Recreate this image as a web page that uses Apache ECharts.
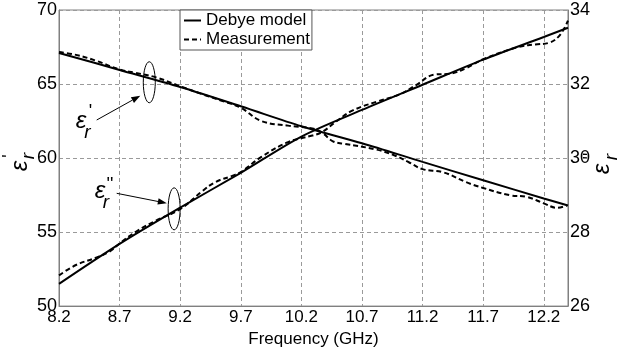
<!DOCTYPE html>
<html>
<head>
<meta charset="utf-8">
<script src="https://cdn.jsdelivr.net/npm/echarts@6/dist/echarts.min.js"></script>
<style>html,body{margin:0;padding:0;background:#fff}#c{width:619px;height:353px}</style>
</head>
<body>
<div id="c"></div>
<script>
// ---------- data ----------
const X0 = 8.2;                      // first frequency tick (GHz)
const xTickStep = 0.5;
const freqDebye = [8.2, 8.7, 9.2, 9.7, 10.2, 10.7, 11.2, 11.7, 12.2, 12.4];
const epsRealDebye = [67.1, 65.95, 64.8, 63.5, 62.15, 61.0, 59.74, 58.5, 57.27, 56.8];
const epsImagDebye = [26.6, 27.68, 28.66, 29.6, 30.58, 31.3, 31.98, 32.66, 33.27, 33.52];

const freqMeasReal = [8.2, 8.34, 8.5, 8.7, 8.83, 9.0, 9.2, 9.38, 9.55, 9.7, 9.87, 10.09, 10.29, 10.37, 10.46, 10.55, 10.82, 10.98, 11.09, 11.2, 11.37, 11.56, 11.7, 11.92, 12.06, 12.2, 12.31, 12.39];
const epsRealMeas = [67.16, 66.97, 66.59, 65.98, 65.76, 65.45, 64.85, 64.32, 63.85, 63.4, 62.5, 62.19, 62.0, 61.72, 61.13, 60.97, 60.57, 60.14, 59.7, 59.25, 59.04, 58.37, 57.98, 57.49, 57.38, 56.94, 56.64, 56.79];

const freqMeasImag = [8.2, 8.34, 8.5, 8.61, 8.7, 8.83, 9.0, 9.2, 9.38, 9.49, 9.63, 9.7, 9.87, 10.09, 10.29, 10.37, 10.48, 10.62, 10.82, 11.01, 11.15, 11.29, 11.43, 11.56, 11.7, 11.99, 12.13, 12.24, 12.33, 12.4];
const epsImagMeas = [26.83, 27.11, 27.3, 27.46, 27.69, 28.0, 28.31, 28.62, 29.1, 29.35, 29.52, 29.62, 30.03, 30.43, 30.61, 30.7, 30.97, 31.28, 31.52, 31.72, 31.98, 32.25, 32.28, 32.43, 32.67, 33.0, 33.07, 33.11, 33.31, 33.71];

const leftTicks = {min: 50, max: 70, step: 5};
const rightTicks = {min: 26, max: 34, step: 2};
const xRange = {min: 8.2, max: 12.4};
const seriesNames = ['Debye model', 'Measurement'];

// ---------- chart ----------
const FONT = '"Liberation Sans", Arial, sans-serif';
const toXY = (fs, vs) => fs.map((f, i) => [f - X0, vs[i]]);
const chart = echarts.init(document.getElementById('c'), null, {renderer: 'canvas'});

const gridLine = {show: true, lineStyle: {color: '#9a9a9a', type: [4, 3], width: 1}};
const axisLineS = {show: true, lineStyle: {color: '#808080', width: 1}};

chart.setOption({
  animation: false,
  backgroundColor: '#fff',
  grid: {left: 59, right: 51, top: 10, bottom: 41, show: true, borderColor: '#808080', borderWidth: 1},
  legend: {
    orient: 'vertical', left: 180, top: 10,
    data: seriesNames,
    itemWidth: 17, itemHeight: 12, itemGap: 2,
    padding: [2, 2, 2, 3],
    borderColor: '#555', borderWidth: 1, backgroundColor: '#fff', borderRadius: 0,
    itemStyle: {opacity: 0},
    textStyle: {fontFamily: FONT, fontSize: 17, color: '#000'}
  },
  xAxis: {
    type: 'value', min: xRange.min - X0, max: xRange.max - X0, interval: xTickStep,
    name: 'Frequency (GHz)', nameLocation: 'middle', nameGap: 18,
    nameTextStyle: {fontFamily: FONT, fontSize: 17, color: '#000'},
    axisLine: axisLineS, axisTick: {show: false},
    splitLine: gridLine,
    axisLabel: {
      fontFamily: FONT, fontSize: 17, color: '#000', margin: 3,
      formatter: v => {
        const k = v / xTickStep;
        return Math.abs(k - Math.round(k)) < 1e-6 ? (v + X0).toFixed(1) : '';
      }
    }
  },
  yAxis: [
    {type: 'value', min: leftTicks.min, max: leftTicks.max, interval: leftTicks.step,
     axisLine: axisLineS, axisTick: {show: false}, splitLine: gridLine,
     axisLabel: {fontFamily: FONT, fontSize: 18, color: '#000', margin: 2}},
    {type: 'value', min: rightTicks.min, max: rightTicks.max, interval: rightTicks.step, position: 'right',
     axisLine: axisLineS, axisTick: {show: false}, splitLine: {show: false},
     axisLabel: {fontFamily: FONT, fontSize: 18, color: '#000', margin: 2}}
  ],
  series: [
    {name: seriesNames[0], type: 'line', yAxisIndex: 0, data: toXY(freqDebye, epsRealDebye), symbol: 'none', smooth: 0.3,
     lineStyle: {color: '#000', width: 2}, itemStyle: {color: '#000'}, z: 3},
    {name: seriesNames[0], type: 'line', yAxisIndex: 1, data: toXY(freqDebye, epsImagDebye), symbol: 'none', smooth: 0.3,
     lineStyle: {color: '#000', width: 2}, itemStyle: {color: '#000'}, z: 3},
    {name: seriesNames[1], type: 'line', yAxisIndex: 0, data: toXY(freqMeasReal, epsRealMeas), symbol: 'none', smooth: 0.4,
     lineStyle: {color: '#000', width: 2, type: [5, 3]}, itemStyle: {color: '#000'}, z: 2},
    {name: seriesNames[1], type: 'line', yAxisIndex: 1, data: toXY(freqMeasImag, epsImagMeas), symbol: 'none', smooth: 0.4,
     lineStyle: {color: '#000', width: 2, type: [5, 3]}, itemStyle: {color: '#000'}, z: 2}
  ]
});

// ---------- annotations ----------
function px(f, v, yIdx) { return chart.convertToPixel({xAxisIndex: 0, yAxisIndex: yIdx}, [f - X0, v]); }
function arrow(x1, y1, x2, y2) {
  const a = Math.atan2(y2 - y1, x2 - x1), L = 9, W = 3.2;
  const bx = x2 - L * Math.cos(a), by = y2 - L * Math.sin(a);
  const ox = -Math.sin(a) * W, oy = Math.cos(a) * W;
  return [
    {type: 'line', shape: {x1: x1, y1: y1, x2: bx, y2: by}, style: {stroke: '#000', lineWidth: 1}, z: 10},
    {type: 'polygon', shape: {points: [[x2, y2], [bx + ox, by + oy], [bx - ox, by - oy]]}, style: {fill: '#000'}, z: 10}
  ];
}
function txt(t, x, y, size, italic) {
  return {type: 'text', x: x, y: y, z: 10,
    style: {text: t, fill: '#000', font: (italic ? 'italic ' : '') + size + 'px ' + FONT, align: 'center', verticalAlign: 'middle'}};
}
const e1 = px(8.945, 65.12, 0);
const e2 = px(9.15, 56.57, 0);
const g = [];
g.push({type: 'ellipse', shape: {cx: e1[0], cy: e1[1], rx: 6, ry: 20.5}, style: {fill: 'none', stroke: '#000', lineWidth: 1}, z: 10});
g.push({type: 'ellipse', shape: {cx: e2[0], cy: e2[1], rx: 6, ry: 21}, style: {fill: 'none', stroke: '#000', lineWidth: 1}, z: 10});
g.push(...arrow(96.7, 120, e1[0] - 9, e1[1] + 13.5));
g.push(...arrow(116.7, 193.3, e2[0] - 7.3, e2[1] - 5.6));
g.push(txt('ε', 81, 121, 24, true), txt("'", 90.5, 112, 18, false), txt('r', 87.5, 133, 19, true));
g.push(txt('ε', 100, 191.5, 24, true), txt("''", 110, 185, 18, false), txt('r', 106, 203, 19, true));
// axis names (rotated)
function rotLabel(x, y, sup, supPos, rPos) {
  return {type: 'group', x: x, y: y, rotation: Math.PI / 2, children: [
    txt('ε', 0, 0, 24, true), txt(sup, supPos[0], supPos[1], 18, false), txt('r', rPos[0], rPos[1], 19, true)
  ]};
}
g.push(rotLabel(20, 166, "'", [10, -10], [10, 9]));
g.push(rotLabel(602, 169, "''", [13, -11], [12, 10]));
chart.setOption({graphic: g});
</script>
</body>
</html>
